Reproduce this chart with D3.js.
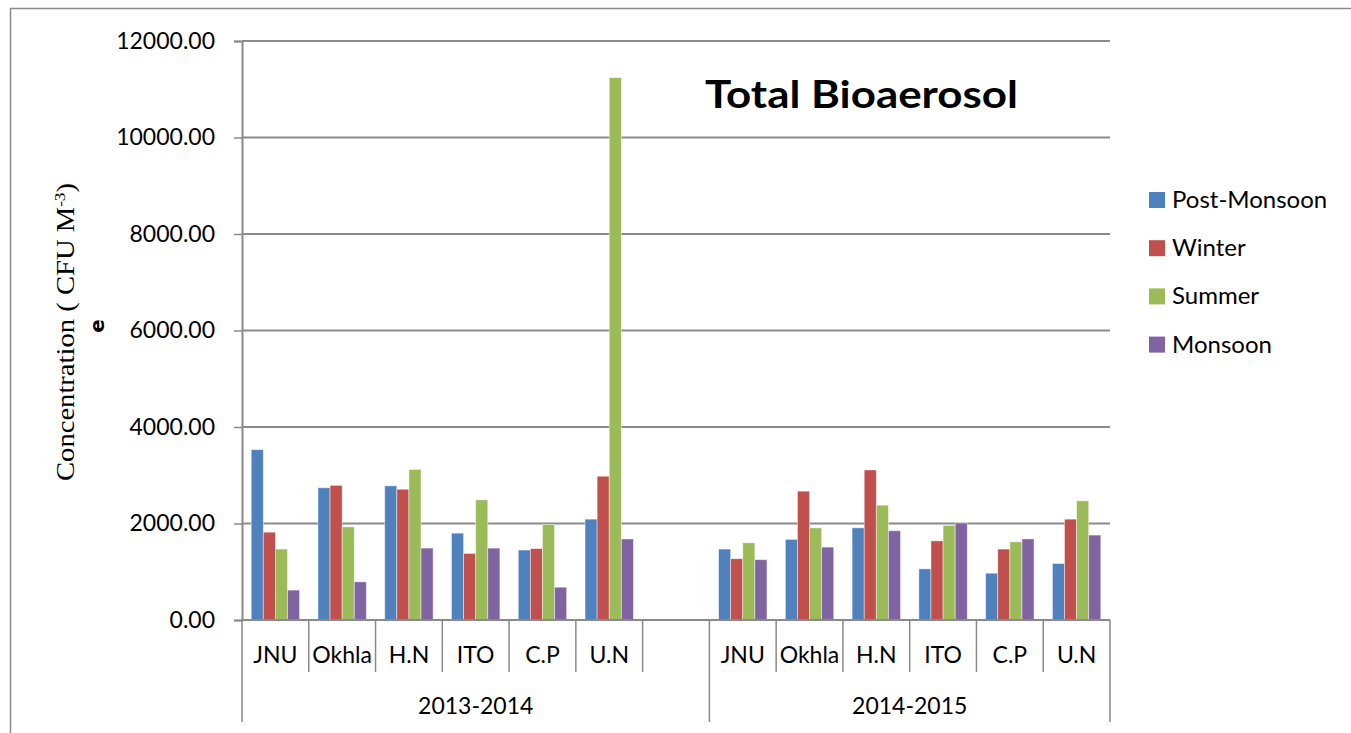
<!DOCTYPE html>
<html>
<head>
<meta charset="utf-8">
<script src="https://cdn.jsdelivr.net/npm/d3@7"></script>
<style>
  body { margin: 0; background: #fff; }
  svg { display: block; }
</style>
</head>
<body>
<script>
// data
const years = ["2013-2014", "2014-2015"];
const sites = ["JNU", "Okhla", "H.N", "ITO", "C.P", "U.N"];
const seasons = ["Post-Monsoon", "Winter", "Summer", "Monsoon"];
const seasonColors = ["#4F81BD", "#C0504D", "#9BBB59", "#8064A2"];

const postMonsoon2013 = [3530, 2740, 2780, 1800, 1450, 2090];
const winter2013 = [1820, 2790, 2710, 1380, 1480, 2980];
const summer2013 = [1470, 1930, 3120, 2490, 1980, 11240];
const monsoon2013 = [620, 790, 1490, 1490, 680, 1680];

const postMonsoon2014 = [1470, 1670, 1910, 1060, 970, 1170];
const winter2014 = [1270, 2670, 3110, 1640, 1470, 2090];
const summer2014 = [1600, 1910, 2380, 1960, 1620, 2470];
const monsoon2014 = [1250, 1510, 1850, 2010, 1680, 1760];

const yTicks = [0, 2000, 4000, 6000, 8000, 10000, 12000];

// build rows: 2013-2014 has an empty slot at the end
const seriesByYear = {
    "2013-2014": [postMonsoon2013, winter2013, summer2013, monsoon2013],
    "2014-2015": [postMonsoon2014, winter2014, summer2014, monsoon2014]
};
const slots = [];
years.forEach((yr, yi) => {
    sites.forEach((s, si) => {
        slots.push({
            key: yr + "|" + s, year: yr, site: s,
            values: seasons.map((se, k) => ({ season: se, value: seriesByYear[yr][k][si] }))
        });
    });
    if (yi === 0) slots.push({ key: yr + "|", year: yr, site: "", values: [] });
});

const width = 1351, height = 733;
const plotLeft = 242, plotRight = 1110, plotTop = 41, plotBottom = 620;
const calibri = "Lato, 'Open Sans', sans-serif";

const svg = d3.select("body").append("svg")
    .attr("width", width)
    .attr("height", height);

// chart border
svg.append("rect")
    .attr("x", 10.5).attr("y", 8.5)
    .attr("width", 1400).attr("height", 800)
    .attr("fill", "none")
    .attr("stroke", "#8a8a8a")
    .attr("stroke-width", 1.5);

const x = d3.scaleBand()
    .domain(slots.map(d => d.key))
    .range([plotLeft, plotRight]);

const xInner = d3.scaleBand()
    .domain(seasons)
    .range([0, x.bandwidth()])
    .paddingOuter(0.76);

const y = d3.scaleLinear()
    .domain([0, 12000])
    .range([plotBottom, plotTop]);

const color = d3.scaleOrdinal().domain(seasons).range(seasonColors);

// gridlines
svg.append("g")
    .selectAll("line")
    .data(yTicks)
    .join("line")
    .attr("x1", plotLeft).attr("x2", plotRight)
    .attr("y1", d => y(d)).attr("y2", d => y(d))
    .attr("stroke", "#8a8a8a")
    .attr("stroke-width", 2);

// y axis
const yAxis = svg.append("g")
    .attr("transform", `translate(${plotLeft},0)`)
    .call(d3.axisLeft(y).tickValues(yTicks).tickFormat(d3.format(".2f")).tickSize(8).tickPadding(19));
yAxis.select(".domain").attr("stroke", "#8a8a8a").attr("stroke-width", 2);
yAxis.selectAll(".tick line").attr("stroke", "#8a8a8a").attr("stroke-width", 1.5);
yAxis.selectAll(".tick text")
    .attr("fill", "#000")
    .style("font-family", calibri)
    .style("font-size", "23px");

// bars
const groups = svg.append("g")
    .selectAll("g")
    .data(slots)
    .join("g")
    .attr("transform", d => `translate(${x(d.key)},0)`);

groups.selectAll("rect")
    .data(d => d.values)
    .join("rect")
    .attr("x", d => xInner(d.season))
    .attr("width", xInner.bandwidth())
    .attr("y", d => y(d.value))
    .attr("height", d => y(0) - y(d.value))
    .attr("fill", d => color(d.season))
    .attr("stroke", "rgba(255,255,255,0.55)")
    .attr("stroke-width", 0.8);

// x axis line
svg.append("line")
    .attr("x1", plotLeft).attr("x2", plotRight)
    .attr("y1", plotBottom).attr("y2", plotBottom)
    .attr("stroke", "#8a8a8a")
    .attr("stroke-width", 2);

// category separators
const bounds = slots.map(d => x(d.key)).concat([plotRight]);
const yearEdges = [plotLeft, x(years[1] + "|" + sites[0]), plotRight];
svg.append("g")
    .selectAll("line")
    .data(bounds)
    .join("line")
    .attr("x1", d => d).attr("x2", d => d)
    .attr("y1", plotBottom)
    .attr("y2", d => yearEdges.some(e => Math.abs(e - d) < 0.5) ? 722 : 672)
    .attr("stroke", "#8a8a8a")
    .attr("stroke-width", 1.5);

// site labels
svg.append("g")
    .selectAll("text")
    .data(slots)
    .join("text")
    .attr("x", d => x(d.key) + x.bandwidth() / 2)
    .attr("y", 663)
    .attr("text-anchor", "middle")
    .style("font-family", calibri)
    .style("font-size", "23px")
    .text(d => d.site);

// year labels
svg.append("g")
    .selectAll("text")
    .data(years)
    .join("text")
    .attr("x", (d, i) => (yearEdges[i] + yearEdges[i + 1]) / 2)
    .attr("y", 714)
    .attr("text-anchor", "middle")
    .style("font-family", calibri)
    .style("font-size", "23px")
    .text(d => d);

// y axis title
const yTitle = svg.append("text")
    .attr("transform", "translate(74,332) rotate(-90)")
    .attr("text-anchor", "middle")
    .style("font-family", "'Liberation Serif', 'Times New Roman', serif")
    .style("font-size", "25px")
    .attr("textLength", 298)
    .attr("lengthAdjust", "spacingAndGlyphs");
yTitle.append("tspan").text("Concentration ( CFU M");
yTitle.append("tspan").attr("dy", -9).style("font-size", "15px").text("-3");
yTitle.append("tspan").attr("dy", 9).text(")");

svg.append("text")
    .attr("transform", "translate(104,326) rotate(-90)")
    .attr("text-anchor", "middle")
    .style("font-family", "'DejaVu Sans', sans-serif")
    .style("font-weight", "bold")
    .style("font-size", "20px")
    .text("e");

// chart title
svg.append("text")
    .attr("x", 705)
    .attr("y", 108)
    .style("font-family", calibri)
    .style("font-weight", "bold")
    .style("font-size", "38px")
    .attr("textLength", 313)
    .attr("lengthAdjust", "spacingAndGlyphs")
    .text("Total Bioaerosol");

// legend
const legend = svg.append("g")
    .selectAll("g")
    .data(seasons)
    .join("g")
    .attr("transform", (d, i) => `translate(1149,${200 + i * 48.2})`);
legend.append("rect")
    .attr("x", 0).attr("y", -8)
    .attr("width", 16).attr("height", 16)
    .attr("fill", d => color(d));
legend.append("text")
    .attr("x", 23)
    .attr("y", 8)
    .style("font-family", calibri)
    .style("font-size", "24px")
    .text(d => d);
</script>
</body>
</html>
